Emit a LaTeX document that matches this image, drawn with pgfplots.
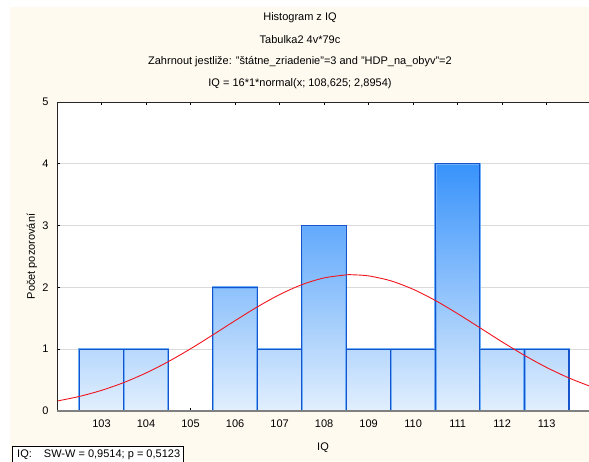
\documentclass[border=0pt]{standalone}
\usepackage{fontspec}
\setmainfont{Liberation Sans}
\usepackage{pgfplots}
\pgfplotsset{compat=1.18}

\definecolor{cream}{RGB}{254,250,240}
\definecolor{barline}{RGB}{22,84,204}
\definecolor{barhalo}{RGB}{110,175,250}
\definecolor{gridgray}{RGB}{218,218,218}
\definecolor{axisgray}{RGB}{128,128,128}
\definecolor{fitred}{RGB}{240,20,30}

% Histogram counts (bin centre, count)
\pgfplotstableread{
x    n
103  1
104  1
105  0
106  2
107  1
108  3
109  1
110  1
111  4
112  1
113  1
}\histdata

\begin{document}
\begin{tikzpicture}[font=\fontsize{11}{13}\selectfont]
\useasboundingbox (0,0) rectangle (589pt,-462pt);
\fill[white] (0,0) rectangle (589pt,-462pt);
\fill[cream] (10pt,-7pt) rectangle (589pt,-470pt);

\node at (300pt,-18pt) {Histogram z IQ};
\node at (300pt,-40pt) {Tabulka2 4v*79c};
\node at (300pt,-62pt) {Zahrnout jestliže: "štátne\_zriadenie"=3 and "HDP\_na\_obyv"=2};
\node at (300pt,-84pt) {IQ = 16*1*normal(x; 108,625; 2,8954)};

\begin{axis}[
  at={(57pt,-411pt)}, anchor=south west,
  scale only axis, width=532pt, height=309pt,
  xmin=102, xmax=113.95, ymin=0, ymax=5,
  axis background/.style={fill=white},
  axis line style={draw=none},
  xtick={103,...,113}, ytick={0,...,5},
  xtick pos=both, ytick pos=left,
  tick align=inside, major tick length=3pt,
  tick style={black, line width=0.6pt},
  ymajorgrids, grid style={gridgray, line width=0.8pt},
  /pgf/number format/assume math mode=true,
  xticklabel style={yshift=-5pt},
  yticklabel style={xshift=-5pt},
  xlabel={IQ}, ylabel={Počet pozorování},
  xlabel style={at={(axis description cs:0.5,0)}, anchor=center, yshift=-37pt},
  ylabel style={at={(axis description cs:-0.047,0.5)}, anchor=center},
  colormap={histblue}{rgb255=(226,239,253) rgb255=(56,147,251)},
  point meta min=0, point meta max=4,
  clip=true,
]
% gradient fill of the bars, shaded by height
\addplot[patch, patch type=rectangle, shader=interp, point meta=y] table {
x     y
102.5 0
103.5 0
103.5 1
102.5 1
103.5 0
104.5 0
104.5 1
103.5 1
105.5 0
106.5 0
106.5 2
105.5 2
106.5 0
107.5 0
107.5 1
106.5 1
107.5 0
108.5 0
108.5 3
107.5 3
108.5 0
109.5 0
109.5 1
108.5 1
109.5 0
110.5 0
110.5 1
109.5 1
110.5 0
111.5 0
111.5 4
110.5 4
111.5 0
112.5 0
112.5 1
111.5 1
112.5 0
113.5 0
113.5 1
112.5 1
};
% bar outlines
\addplot[ybar, bar width=1, bar shift=0pt, draw=barhalo, line width=2.2pt, fill=none]
  table[x=x, y=n] {\histdata};
\addplot[ybar, bar width=1, bar shift=0pt, draw=barline, line width=1.1pt, fill=none]
  table[x=x, y=n] {\histdata};
% fitted normal curve 16*1*normal(x; 108.625; 2.8954)
\addplot[fitred, line width=0.9pt, smooth] coordinates {
(102,0.1609) (102.5,0.2353) (103,0.3340) (103.5,0.4604) (104,0.6155)
(104.5,0.7991) (105,1.0068) (105.5,1.2313) (106,1.4617) (106.5,1.6841)
(107,1.8834) (107.5,2.0443) (108,2.1538) (108.5,2.2025) (108.625,2.2046)
(109,2.1862) (109.5,2.1062) (110,1.9695) (110.5,1.7876) (111,1.5748)
(111.5,1.3466) (112,1.1176) (112.5,0.9003) (113,0.7039) (113.5,0.5342)
(114,0.3935)
};
% frame: left and top dark, bottom grey
\draw[black!85, line width=0.9pt] (rel axis cs:0,0) -- (rel axis cs:0,1) -- (rel axis cs:1.01,1);
\draw[axisgray, line width=1.6pt] (rel axis cs:0,0) -- (rel axis cs:1.01,0);
\end{axis}

% Shapiro-Wilk result box
\draw[black, line width=0.8pt, fill=white] (12pt,-446pt) rectangle (183pt,-475pt);
\node[anchor=base west, inner sep=0pt] at (17pt,-457.5pt)
  {IQ:\hspace{1.1em}SW-W = 0,9514; p = 0,5123};
\end{tikzpicture}
\end{document}
